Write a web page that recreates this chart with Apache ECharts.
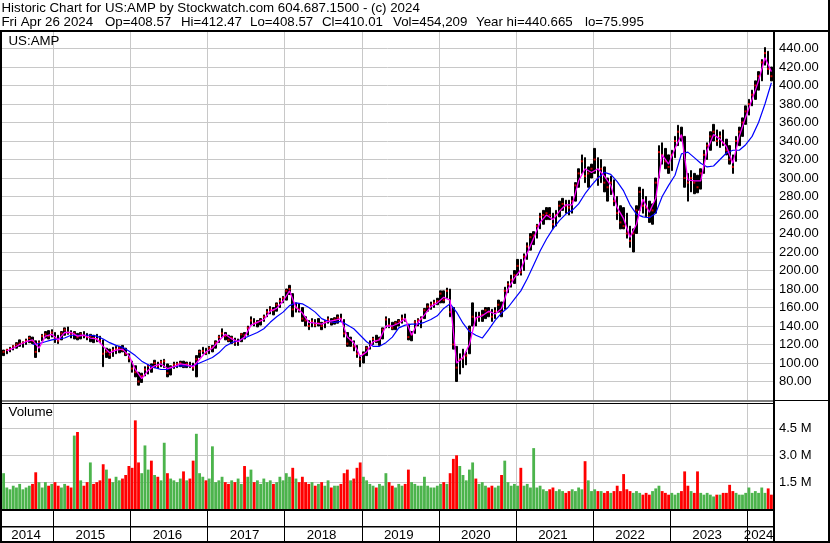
<!DOCTYPE html>
<html><head><meta charset="utf-8">
<script src="https://cdn.jsdelivr.net/npm/echarts@6/dist/echarts.min.js"></script>
<style>html,body{margin:0;padding:0;background:#fff}#c{width:830px;height:543px}</style>
</head><body><div id="c"></div>
<script>
// ---- data (half-month periods, May 2014 .. Apr 2024) ----
const years = [2014,2015,2016,2017,2018,2019,2020,2021,2022,2023,2024];
const firstYear = 2014, firstMonth = 5, periodCount = 240;
const headerLine1 = 'Historic Chart for US:AMP by Stockwatch.com 604.687.1500 - (c) 2024';
const headerFields = ['Fri Apr 26 2024', 'Op=408.57', 'Hi=412.47', 'Lo=408.57', 'Cl=410.01', 'Vol=454,209', 'Year hi=440.665', 'lo=75.995'];
const symbolLabel = 'US:AMP';
const volumeLabel = 'Volume';

const priceLow = [
108,110,112,114,116,118,117,120,122,121,106,112,124,127,126,128,
122,121,125,130,131,127,126,125,126,127,125,123,122,123,122,96,106,105,107,110,111,112,108,101,
90,85,76,79,86,88,90,95,94,96,95,85,87,94,95,96,95,95,95,92,85,106,110,109,
110,112,116,122,128,125,123,121,119,119,123,126,130,141,140,139,141,145,150,153,152,156,160,165,
168,174,150,155,155,145,140,136,139,139,140,136,138,143,141,142,143,145,128,118,118,113,106,96,
100,108,115,120,122,119,126,138,138,136,136,140,143,145,125,124,132,140,138,148,156,158,160,163,
165,165,170,150,115,80,88,95,98,110,140,140,145,145,148,150,145,148,155,150,158,176,182,186,
195,195,200,212,222,228,235,245,250,255,255,245,248,258,265,262,260,262,275,290,305,295,290,300,
305,292,295,285,275,282,270,255,245,245,235,225,220,240,265,262,258,252,250,262,300,315,310,305,
308,322,335,340,290,275,285,283,284,288,305,320,330,340,335,333,335,325,315,305,318,335,345,358,
368,378,385,395,405,422,412,405];
const priceHigh = [
114,115,117,119,122,125,123,126,129,128,124,124,131,134,135,136,
133,130,134,138,139,135,134,132,133,134,132,131,130,131,129,125,116,115,117,118,118,119,116,110,
102,97,90,89,96,98,99,103,101,103,104,99,97,101,101,102,102,101,101,100,108,114,117,116,
118,119,124,130,137,133,130,129,127,126,132,133,140,150,148,146,148,152,158,161,160,165,170,172,
180,184,175,165,164,160,150,146,148,147,148,144,146,150,148,149,152,153,147,133,128,124,119,108,
112,118,124,128,130,128,138,150,148,144,145,147,152,153,142,134,146,148,150,159,164,166,168,170,
178,178,181,180,160,118,110,115,112,140,165,155,155,157,160,160,158,160,168,166,182,188,195,200,
212,212,218,230,240,242,250,262,265,268,268,262,265,275,278,276,276,280,295,310,325,322,312,315,
332,322,320,312,300,302,298,280,270,268,262,248,245,270,290,288,280,275,272,300,335,338,332,325,
330,345,357,355,345,305,308,305,303,310,330,338,350,358,352,350,352,342,335,325,345,355,365,378,
385,395,405,415,428,441,437,420];
const priceClose = [
112,114,115,118,120,121,122,124,127,124,112,122,129,131,129,133,
126,124,132,136,133,131,132,128,131,130,128,129,127,126,124,110,112,109,114,115,116,114,110,105,
94,90,80,86,93,97,96,100,97,101,102,89,95,98,99,100,97,99,97,95,104,112,113,111,
116,117,122,128,132,129,125,127,122,124,131,130,138,146,143,144,146,150,155,158,157,163,167,170,
178,180,158,160,158,148,146,140,145,141,143,140,144,147,144,147,149,148,132,121,125,118,110,104,
110,116,121,126,124,126,136,147,141,138,143,145,148,147,128,131,144,146,148,157,161,163,165,167,
175,168,178,155,120,95,104,105,108,136,150,148,150,152,157,155,150,156,163,155,178,185,190,195,
205,198,215,226,236,238,248,258,260,262,260,250,260,270,272,270,268,275,292,305,318,302,305,310,
320,300,310,295,290,295,275,262,252,248,240,232,240,265,285,270,268,258,265,295,328,325,318,312,
325,340,350,345,300,295,300,295,290,305,325,335,345,350,340,345,338,330,320,312,340,350,360,372,
380,390,400,410,425,435,418,410];
// volume, millions of shares
const volumeM = [
2.0,1.2,1.1,1.3,1.2,1.4,1.1,1.2,1.3,1.4,2.05,1.5,1.2,1.5,1.3,1.4,
1.5,1.3,1.2,1.4,1.3,1.2,4.1,4.3,1.6,1.3,1.5,2.6,1.4,1.5,1.6,2.5,2.2,1.7,1.5,1.8,1.6,1.7,1.9,2.4,
2.3,4.95,2.6,2.0,3.55,2.2,2.7,1.9,1.8,1.6,3.7,2.0,1.7,1.6,1.5,1.7,2.1,1.6,1.7,2.7,4.2,2.0,1.8,1.6,
1.7,3.5,1.5,1.6,1.8,1.5,1.4,1.6,1.5,1.7,1.4,2.4,1.8,2.2,1.5,1.6,1.4,1.7,1.5,1.6,1.4,1.5,1.8,1.6,
2.0,1.8,2.3,1.7,1.5,1.8,1.5,1.4,1.5,1.3,1.4,1.5,1.3,1.6,1.2,1.3,1.3,1.4,2.0,2.2,1.6,1.7,2.3,2.6,
1.8,1.6,1.4,1.3,1.2,1.4,1.3,2.0,1.5,1.3,1.2,1.4,1.3,1.4,2.2,1.5,1.4,1.3,1.3,1.8,1.3,1.2,1.2,1.3,
1.4,1.5,1.4,2.0,2.8,3.0,2.4,1.9,1.6,2.2,2.6,1.7,1.4,1.5,1.3,1.2,1.3,1.2,1.3,1.9,2.7,1.5,1.3,1.4,
1.3,2.3,1.3,1.4,1.2,3.4,1.2,1.3,1.1,1.0,1.1,1.2,1.0,1.1,1.0,0.9,1.0,1.1,1.0,1.2,1.1,2.67,1.6,1.0,
1.1,1.0,1.0,0.9,1.0,0.9,1.0,1.3,1.0,1.95,1.1,1.0,0.9,1.0,0.9,0.8,0.9,0.8,1.0,1.15,1.3,1.0,0.9,0.8,
0.9,0.8,0.9,1.0,2.1,1.3,1.0,0.9,2.1,0.9,0.8,0.9,0.8,0.7,0.8,0.8,0.9,0.9,1.35,1.0,0.9,0.8,0.8,0.9,
1.2,0.9,1.0,0.9,1.2,0.9,1.15,0.8];
// moving averages read at month ends (May 2014 .. Apr 2024)
const maShortMonthly = [
113,116,120,123,125,116,129,131,
125,133,133,129,130,127,126,118,111,114,115,108,
93,83,92,97,99,94,96,99,98,96,104,112,
116,124,131,126,123,128,141,144,147,156,159,167,
178,160,154,144,143,142,145,146,148,128,122,107,
112,123,125,140,140,143,148,130,144,152,161,165,
171,168,100,106,120,149,151,156,153,159,180,192,
201,219,235,252,260,255,264,271,271,297,310,306,
310,302,292,268,256,236,250,277,263,278,325,315,
332,347,298,297,297,330,347,342,334,316,345,366,
385,405,430,415];
const maLongMonthly = [
null,null,null,null,120,121,123,125,
126,127,130,130,130,130,129,126,122,119,117,113,
108,102,98,95,93,93,96,97,97,97,100,103,
106,111,118,122,124,127,130,133,137,144,150,155,
162,165,164,160,155,148,145,144,145,141,137,130,
123,118,118,122,128,138,141,142,142,144,147,151,
159,164,155,143,134,130,127,136,146,154,160,169,
178,191,206,221,234,245,254,261,265,272,283,292,
300,306,304,296,286,271,261,258,257,262,280,292,
303,326,328,322,316,312,313,320,327,330,330,336,
345,360,380,403];

// ---- build ----
const cats = [];
for (let k = 0; k < periodCount; k++) {
  const mAbs = (firstMonth - 1) + Math.floor(k / 2);
  const y = firstYear + Math.floor(mAbs / 12);
  const mo = mAbs % 12 + 1;
  cats.push(y + '-' + String(mo).padStart(2, '0') + (k % 2 ? 'b' : 'a'));
}
const isYearStart = (i) => i > 0 && cats[i].slice(0, 4) !== cats[i - 1].slice(0, 4);
const labelIdx = new Set();
years.forEach(y => {
  const idx = [];
  cats.forEach((c, i) => { if (c.slice(0, 4) === String(y)) idx.push(i); });
  labelIdx.add(idx[0] + Math.floor(idx.length / 2) - 1);
});
const toPeriods = (monthly) => {
  const arr = new Array(periodCount).fill(null);
  monthly.forEach((v, m) => { arr[2 * m + 1] = v; });
  return arr;
};
const shortMA = toPeriods(maShortMonthly);
const longMA = toPeriods(maLongMonthly);
const candles = priceLow.map((l, i) => [l, priceHigh[i], l, priceHigh[i]]);
const volBars = volumeM.map((v, i) => ({
  value: v,
  itemStyle: { color: (i === 0 || priceClose[i] >= priceClose[i - 1]) ? '#4cb44c' : '#ff0000' }
}));

const font = '"Liberation Sans", Arial, sans-serif';
const gridLine = '#c8c8c8';
const xAxisBase = (g) => ({
  type: 'category', gridIndex: g, data: cats, boundaryGap: true,
  axisLine: { show: false }, axisTick: { show: false },
  axisLabel: { show: false },
  splitLine: { show: true, interval: (i) => isYearStart(i), lineStyle: { color: g === 2 ? '#000' : gridLine, width: 1 } }
});
const xBottom = xAxisBase(2);
xBottom.axisLabel = {
  show: true, inside: true, margin: -1, interval: (i) => labelIdx.has(i),
  formatter: (v) => v.slice(0, 4), fontSize: 13.3, color: '#000', fontFamily: font
};

const rect = (x, y, w, h) => ({ type: 'rect', silent: true, z: 100, shape: { x, y, width: w, height: h }, style: { fill: '#000' } });
const txt = (x, y, s) => ({ type: 'text', silent: true, z: 100, x, y, style: { text: s, font: '13.3px ' + font, fill: '#000', align: 'left', verticalAlign: 'middle' } });
const fieldX = [1.5, 105, 181, 250, 322, 393, 476, 585];

const chart = echarts.init(document.getElementById('c'), null, { renderer: 'canvas' });
chart.setOption({
  animation: false,
  backgroundColor: '#fff',
  grid: [
    { left: 2, right: 57, top: 30, height: 370 },
    { left: 2, right: 57, top: 403, height: 106 },
    { left: 2, right: 57, top: 511, height: 30 }
  ],
  xAxis: [xAxisBase(0), xAxisBase(1), xBottom],
  yAxis: [
    { type: 'value', gridIndex: 0, position: 'right', min: 60, max: 460, interval: 20,
      axisLine: { show: false }, axisTick: { show: false },
      axisLabel: { showMinLabel: false, showMaxLabel: false, formatter: (v) => v.toFixed(2), margin: 6, fontSize: 13, color: '#000', fontFamily: font },
      splitLine: { show: true, showMinLine: false, showMaxLine: false, lineStyle: { color: gridLine } } },
    { type: 'value', gridIndex: 1, position: 'right', min: 0, max: 5.92, interval: 1.5,
      axisLine: { show: false }, axisTick: { show: false },
      axisLabel: { showMinLabel: false, showMaxLabel: false, formatter: (v) => v.toFixed(1) + ' M', margin: 6, fontSize: 13, color: '#000', fontFamily: font },
      splitLine: { show: true, showMinLine: false, showMaxLine: false, lineStyle: { color: gridLine } } },
    { type: 'value', gridIndex: 2, show: false }
  ],
  series: [
    { type: 'candlestick', xAxisIndex: 0, yAxisIndex: 0, data: candles, barWidth: 2,
      itemStyle: { color: '#000', color0: '#000', borderColor: '#000', borderColor0: '#000', borderWidth: 1 } },
    { type: 'scatter', xAxisIndex: 0, yAxisIndex: 0, data: priceClose, symbol: 'rect', symbolSize: [2, 2],
      itemStyle: { color: '#ff0000' }, z: 3 },
    { type: 'line', xAxisIndex: 0, yAxisIndex: 0, data: longMA, connectNulls: true, showSymbol: false,
      lineStyle: { color: '#0000ff', width: 1.2 }, itemStyle: { color: '#0000ff' }, z: 4 },
    { type: 'line', xAxisIndex: 0, yAxisIndex: 0, data: shortMA, connectNulls: true, showSymbol: false,
      lineStyle: { color: '#ff00ff', width: 1.3 }, itemStyle: { color: '#ff00ff' }, z: 5 },
    { type: 'bar', xAxisIndex: 1, yAxisIndex: 1, data: volBars, barCategoryGap: '12%' }
  ],
  graphic: [
    txt(1.5, 8.5, headerLine1),
    ...headerFields.map((s, i) => txt(fieldX[i], 22.5, s)),
    txt(8.5, 41, symbolLabel),
    txt(8.5, 412.5, volumeLabel),
    rect(0, 30, 830, 2),
    rect(0, 30, 2, 513),
    rect(828, 0, 2, 543),
    rect(0, 541, 830, 2),
    rect(773, 30, 2, 513),
    rect(0, 400.5, 775, 1),
    rect(0, 403, 775, 1),
    rect(775, 400, 55, 1),
    rect(0, 509, 775, 2),
    rect(0, 526, 775, 1.5)
  ]
});
</script>
</body></html>
